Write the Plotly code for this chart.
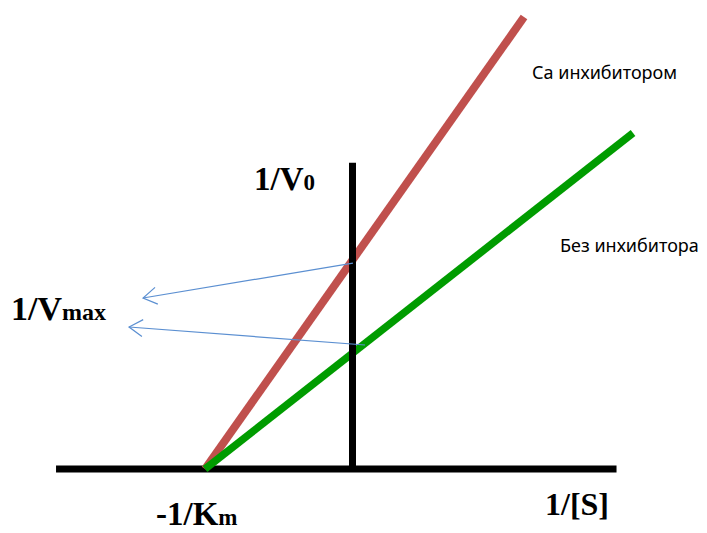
import math
import plotly.graph_objects as go

W, H = 707, 533
OFF = 8  # page body margin: figure starts at page pixel (8, 8)
# page-pixel position of origin (1/[S]=0, 1/V0=0) and px per unit
X0_PX, Y0_PX = 352.5, 469.0
SX, SY = 147.5, 124.0

# ---- data (abstract units) ----
inv_s_red = [-1.0, 1.163]
inv_v_red = [0.0, 3.645]
inv_s_green = [-1.0, 1.902]
inv_v_green = [0.0, 2.710]
x_axis_x = [-2.01, 1.790]
x_axis_y = [0.0, 0.0]
y_axis_x = [0.0, 0.0]
y_axis_y = [0.0, 2.47]
# arrows: tail (on the 1/V0 axis) -> tip (near the label)
arrow_tail_x = [0.003, 0.085]
arrow_tail_y = [1.661, 1.000]
arrow_tip_x = [-1.420, -1.515]
arrow_tip_y = [1.379, 1.145]

RED = "#c0504d"
GREEN = "#009c00"
BLUE = "#5b8fd1"

def to_px(x, y):
    return X0_PX + SX * x, Y0_PX - SY * y

def to_data(px, py):
    return (px - X0_PX) / SX, (Y0_PX - py) / SY

fig = go.Figure()

def line(xs, ys, color, width):
    fig.add_trace(go.Scatter(x=xs, y=ys, mode="lines",
                             line=dict(color=color, width=width),
                             hoverinfo="skip", showlegend=False))

line(x_axis_x, x_axis_y, "black", 7)
line(inv_s_red, inv_v_red, RED, 8)
line(inv_s_green, inv_v_green, GREEN, 7.5)
line(y_axis_x, y_axis_y, "black", 7)

# arrows with open V heads
for tx, ty, hx, hy in zip(arrow_tail_x, arrow_tail_y, arrow_tip_x, arrow_tip_y):
    line([tx, hx], [ty, hy], BLUE, 1.2)
    tpx, tpy = to_px(tx, ty)
    hpx, hpy = to_px(hx, hy)
    ang = math.atan2(tpy - hpy, tpx - hpx)
    arms = []
    for d in (math.radians(32), -math.radians(32)):
        ax = hpx + 16 * math.cos(ang + d)
        ay = hpy + 16 * math.sin(ang + d)
        arms.append(to_data(ax, ay))
    line([arms[0][0], hx, arms[1][0]], [arms[0][1], hy, arms[1][1]], BLUE, 1.2)

xr = [to_data(OFF, 0)[0], to_data(W + OFF, 0)[0]]
yr = [to_data(0, H + OFF)[1], to_data(0, OFF)[1]]

SERIF = "Liberation Serif, Times New Roman, serif"
SANS = "Noto Sans, Open Sans, sans-serif"

def label(text, px, py, size, family, bold=False, color="black"):
    fig.add_annotation(x=(px - OFF) / W, y=1 - (py - OFF) / H,
                       xref="paper", yref="paper",
                       text=f"<b>{text}</b>" if bold else text,
                       showarrow=False, xanchor="left", yanchor="middle",
                       font=dict(size=size, family=family, color=color))

label('1/V<span style="font-size:23px">0</span>', 252, 179, 33, SERIF, True)
label('1/V<span style="font-size:24px">max</span>', 9, 308, 34, SERIF, True)
label('-1/K<span style="font-size:23px">m</span>', 154, 514, 33, SERIF, True)
label('1/[S]', 543, 504, 32, SERIF, True)
label('Са инхибитором', 530, 72, 18, SANS)
label('Без инхибитора', 558, 245, 18, SANS)

fig.update_layout(
    width=W, height=H, margin=dict(l=0, r=0, t=0, b=0),
    paper_bgcolor="white", plot_bgcolor="white",
    xaxis=dict(range=xr, visible=False, fixedrange=True),
    yaxis=dict(range=yr, visible=False, fixedrange=True),
)
fig.write_html("out.html")
